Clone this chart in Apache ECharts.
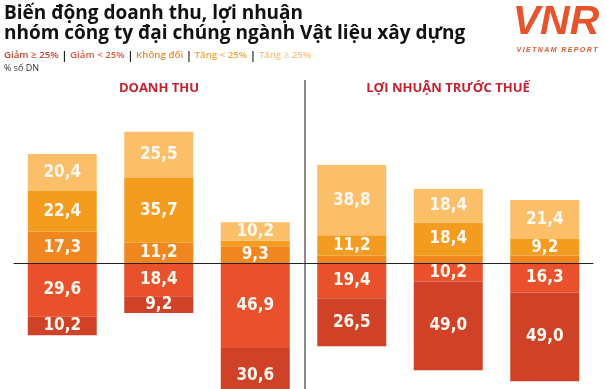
<!DOCTYPE html>
<html>
<head>
<meta charset="utf-8">
<script src="https://cdn.jsdelivr.net/npm/echarts@6/dist/echarts.min.js"></script>
<style>
html,body{margin:0;padding:0;background:#fff;}
#c{width:606px;height:389px;}
</style>
</head>
<body>
<div id="c"></div>
<script>
// Categories: 3 bars for Doanh thu, 3 bars for Lợi nhuận trước thuế
const categories = ['DT-1', 'DT-2', 'DT-3', 'LN-1', 'LN-2', 'LN-3'];
// % số doanh nghiệp
const giamTren25 = [10.2, 9.2, 30.6, 26.5, 49.0, 49.0];   // Giảm ≥ 25%
const giamDuoi25 = [29.6, 18.4, 46.9, 19.4, 10.2, 16.3];  // Giảm < 25%
const khongDoi   = [17.3, 11.2, 9.3, 4.1, 4.0, 4.1];      // Không đổi
const tangDuoi25 = [22.4, 35.7, 3.0, 11.2, 18.4, 9.2];    // Tăng < 25%
const tangTren25 = [20.4, 25.5, 10.2, 38.8, 18.4, 21.4];  // Tăng ≥ 25%
const groupTitles = ['DOANH THU', 'LỢI NHUẬN TRƯỚC THUẾ'];
const legendNames = ['Giảm ≥ 25%', 'Giảm < 25%', 'Không đổi', 'Tăng < 25%', 'Tăng ≥ 25%'];

const colors = {
  giamTren25: '#cf4228',
  giamDuoi25: '#e8512c',
  khongDoi: '#f0861f',
  tangDuoi25: '#f39c1f',
  tangTren25: '#fbbf6a'
};
const legendColors = ['#c9432e', '#e0573a', '#ea8a2e', '#f2a63c', '#f7c480'];

const chart = echarts.init(document.getElementById('c'), null, {renderer: 'canvas'});

const labelCfg = {
  show: true,
  position: 'inside',
  color: '#fff8ee',
  fontFamily: "'DejaVu Sans Condensed', 'Liberation Sans Narrow', sans-serif",
  fontWeight: 'bold',
  fontSize: 17,
  formatter: p => {
    const v = Math.abs(p.value);
    return v < 5 ? '' : v.toFixed(1).replace('.', ',');
  }
};

function mk(name, data, color, sign) {
  return {
    name: name,
    type: 'bar',
    stack: 'all',
    barWidth: 69,
    data: data.map(v => sign * v),
    itemStyle: {color: color},
    label: labelCfg,
    emphasis: {disabled: true},
    clip: false
  };
}

const series = [
  mk(legendNames[2], khongDoi, colors.khongDoi, 1),
  mk(legendNames[3], tangDuoi25, colors.tangDuoi25, 1),
  mk(legendNames[4], tangTren25, colors.tangTren25, 1),
  mk(legendNames[1], giamDuoi25, colors.giamDuoi25, -1),
  mk(legendNames[0], giamTren25, colors.giamTren25, -1)
];

const legendRich = {
  sep: {fill: '#222', fontSize: 10.7, fontFamily: 'Open Sans', fontWeight: 700}
};
let legendText = '';
legendNames.forEach((n, i) => {
  legendRich['l' + i] = {fill: legendColors[i], fontSize: 9.7, fontFamily: 'Open Sans', fontWeight: 600};
  legendText += '{l' + i + '|' + n + '}';
  if (i < legendNames.length - 1) legendText += '{sep| | }';
});

const option = {
  animation: false,
  grid: {left: 14, right: 13, top: 118, height: 290, outerBoundsMode: 'none', containLabel: false},
  xAxis: {
    type: 'category',
    data: categories,
    z: 10,
    axisLine: {show: true, onZero: true, lineStyle: {color: '#222', width: 1}},
    axisTick: {show: false},
    axisLabel: {show: false},
    splitLine: {show: false}
  },
  yAxis: {
    type: 'value',
    min: -80,
    max: 80,
    show: false,
    splitLine: {show: false}
  },
  series: series,
  graphic: [
    {type: 'text', left: 4, top: 4, style: {
      text: 'Biến động doanh thu, lợi nhuận\nnhóm công ty đại chúng ngành Vật liệu xây dựng',
      fontFamily: 'Open Sans', fontWeight: 700, fontSize: 19, lineHeight: 20, fill: '#111'}},
    {type: 'text', left: 4, top: 50, style: {text: legendText, rich: legendRich}},
    {type: 'text', left: 4, top: 64, style: {text: '% số DN', fontFamily: 'Open Sans', fontSize: 9, fill: '#333'}},
    {type: 'text', x: 159, y: 88, style: {text: groupTitles[0], align: 'center', verticalAlign: 'middle',
      fontFamily: 'Open Sans', fontWeight: 'bold', fontSize: 13, fill: '#c8202f'}},
    {type: 'text', x: 448, y: 88, style: {text: groupTitles[1], align: 'center', verticalAlign: 'middle',
      fontFamily: 'Open Sans', fontWeight: 'bold', fontSize: 13, fill: '#c8202f'}},
    {type: 'line', shape: {x1: 305, y1: 80, x2: 305, y2: 389}, style: {stroke: '#8c8c8c', lineWidth: 2}},
    {type: 'text', x: 556, y: 23, style: {text: 'VNR', align: 'center', verticalAlign: 'middle',
      fontFamily: 'Liberation Sans', fontStyle: 'italic', fontWeight: 'bold', fontSize: 41, fill: '#e8532b'}},
    {type: 'text', x: 557, y: 50, style: {text: 'V\u2009I\u2009E\u2009T\u2009N\u2009A\u2009M\u2009 \u2009R\u2009E\u2009P\u2009O\u2009R\u2009T', align: 'center', verticalAlign: 'middle',
      fontFamily: 'Liberation Sans', fontStyle: 'italic', fontWeight: 'bold', fontSize: 7, fill: '#e05a30'}}
  ]
};
chart.setOption(option);
</script>
</body>
</html>
